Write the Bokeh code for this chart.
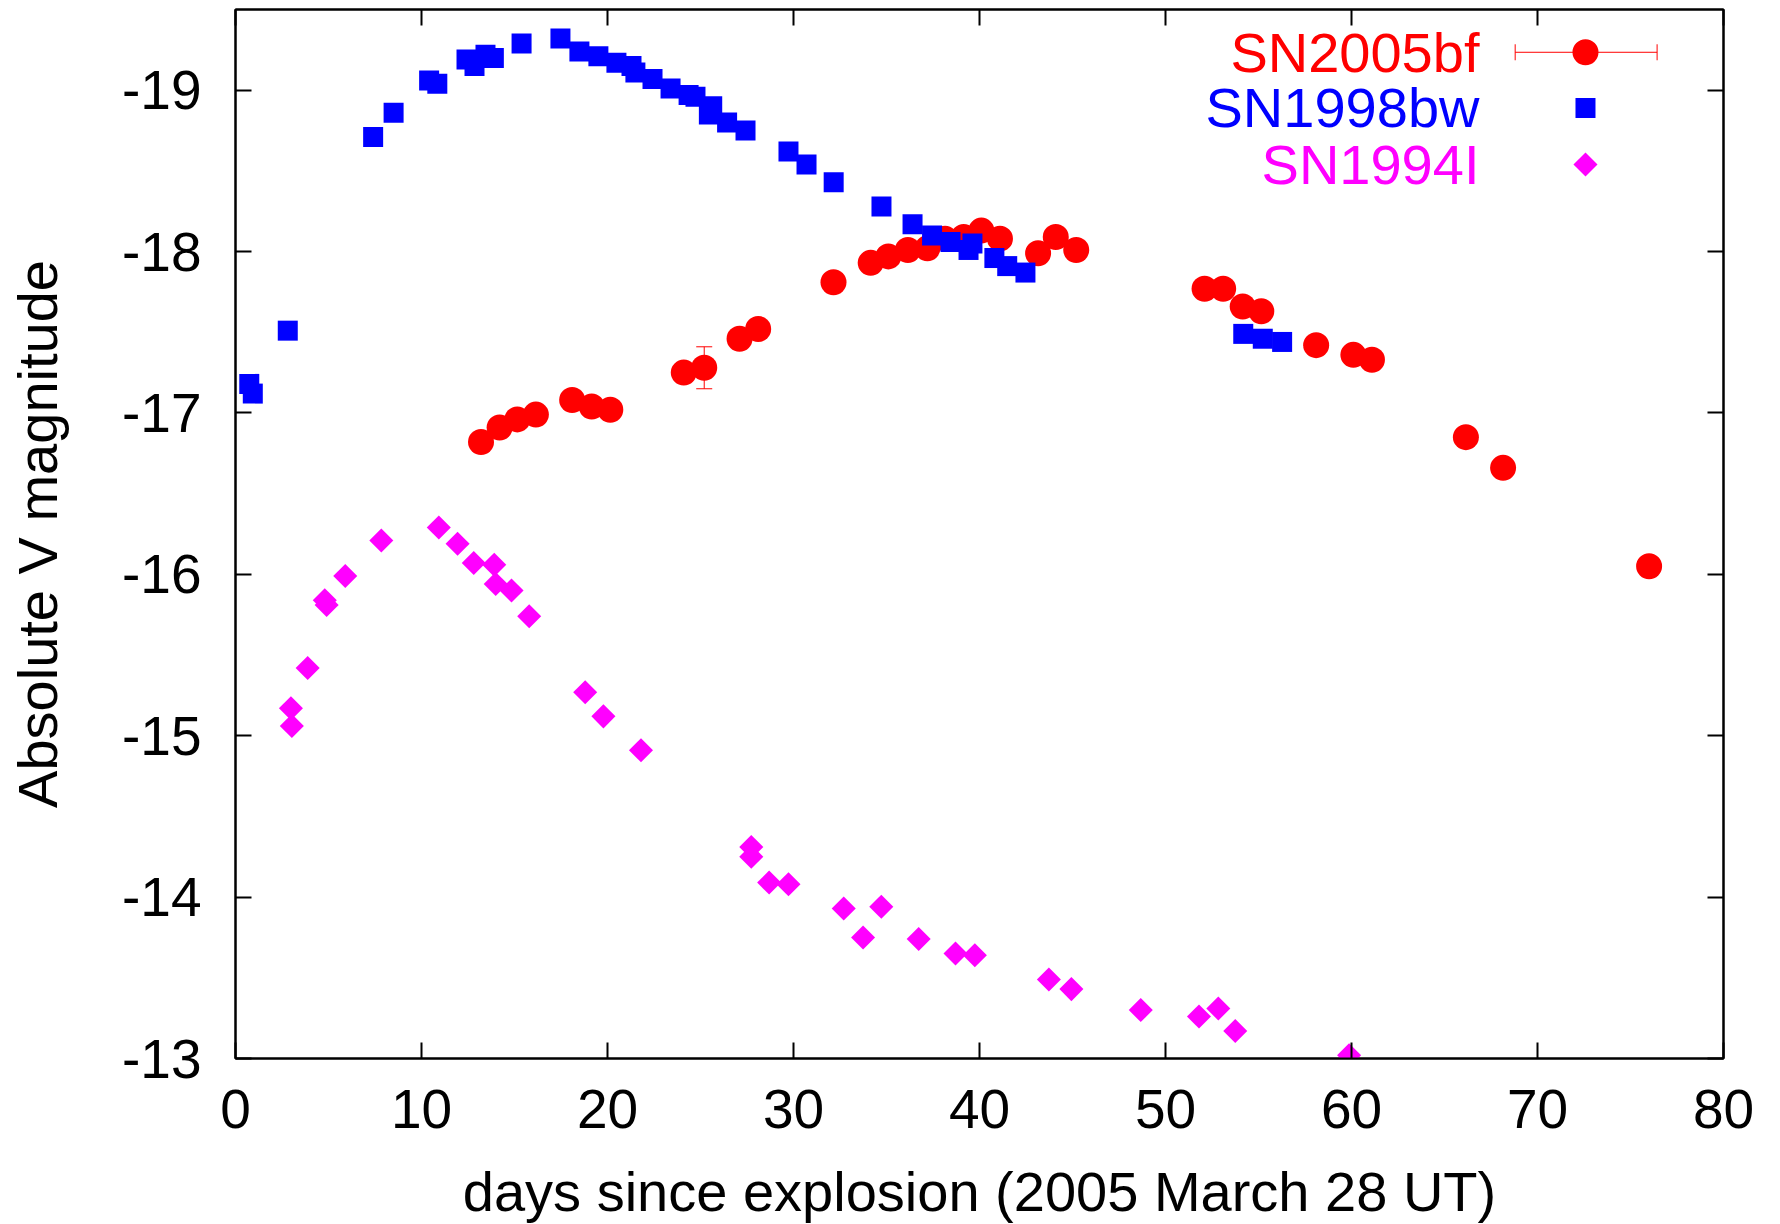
import math
from bokeh.plotting import figure
from bokeh.layouts import column
from bokeh.models import (Range1d, LinearAxis, FixedTicker, Whisker, TeeHead,
                          ColumnDataSource, Label, CustomJSTickFormatter)
from bokeh.core.properties import value
from bokeh.embed import file_html
from bokeh.resources import INLINE

# ---------------- data ----------------
sn2005bf_days = [13.2, 14.2, 15.15, 16.15, 18.1, 19.15, 20.15, 24.1, 25.2, 27.1,
                 28.1, 32.15, 34.15, 35.1, 36.15, 37.2, 38.15, 39.15, 40.1, 41.1,
                 43.15, 44.1, 45.2, 52.1, 53.1, 54.15, 55.15, 58.1, 60.1, 61.1,
                 66.15, 68.15, 76.0]
sn2005bf_mag = [-16.82, -16.91, -16.96, -16.99, -17.08, -17.04, -17.02, -17.25, -17.28, -17.46,
                -17.52, -17.81, -17.93, -17.97, -18.01, -18.02, -18.08, -18.09, -18.13, -18.08,
                -17.99, -18.09, -18.01, -17.77, -17.77, -17.66, -17.63, -17.42, -17.36, -17.33,
                -16.85, -16.66, -16.05]
sn2005bf_err_days = [25.2]
sn2005bf_err_mag = [-17.28]
sn2005bf_err = [0.13]

sn1998bw_days = [0.74, 0.93, 2.81, 7.4, 8.5, 10.41, 10.85, 12.42, 12.85, 13.44,
                 13.89, 15.38, 17.47, 18.49, 19.51, 20.48, 21.29, 21.5, 22.42, 23.39,
                 24.36, 24.73, 25.63, 25.45, 26.43, 27.42, 29.73, 30.7, 32.16, 34.73,
                 36.4, 37.45, 38.44, 39.41, 39.62, 40.8, 41.49, 42.47, 54.18, 55.23, 56.27]
sn1998bw_mag = [-17.18, -17.12, -17.51, -18.71, -18.86, -19.06, -19.04, -19.19, -19.15, -19.22,
                -19.20, -19.29, -19.32, -19.24, -19.21, -19.17, -19.15, -19.11, -19.07, -19.01,
                -18.97, -18.96, -18.90, -18.85, -18.80, -18.75, -18.62, -18.54, -18.43, -18.28,
                -18.17, -18.10, -18.06, -18.01, -18.05, -17.96, -17.91, -17.87, -17.49, -17.46, -17.44]

sn1994i_days = [2.98, 3.03, 3.88, 4.8, 4.9, 5.9, 7.84, 10.93, 11.94, 12.81,
                13.91, 13.99, 14.84, 15.79, 18.8, 19.78, 21.8, 27.73, 27.73, 28.69,
                29.73, 32.7, 33.74, 34.72, 36.73, 38.71, 39.75, 43.73, 44.94, 48.67,
                51.8, 52.84, 53.75, 59.87]
sn1994i_mag = [-15.17, -15.06, -15.42, -15.84, -15.81, -15.99, -16.21, -16.29, -16.19, -16.07,
               -16.06, -15.94, -15.90, -15.74, -15.27, -15.12, -14.91, -14.31, -14.25, -14.09,
               -14.08, -13.93, -13.75, -13.94, -13.74, -13.65, -13.64, -13.49, -13.43, -13.30,
               -13.26, -13.31, -13.17, -13.02]

series_names = ["SN2005bf", "SN1998bw", "SN1994I"]
series_colors = ["#ff0000", "#0000ff", "#ff00ff"]

x_ticks = [0, 10, 20, 30, 40, 50, 60, 70, 80]
y_ticks = [-19, -18, -17, -16, -15, -14, -13]

x_title = "days since explosion (2005 March 28 UT)"
y_title = "Absolute V magnitude"

# ---------------- styling / layout ----------------
FONT = "Liberation Sans"
TICK_FS = "55px"
TITLE_FS = "56px"
MAIN_H = 1150
TITLE_H = 74

p = figure(width=1780, height=MAIN_H,
           x_range=Range1d(0, 80), y_range=Range1d(-13, -19.5),
           output_backend="svg", toolbar_location=None,
           min_border_left=235, min_border_right=57,
           min_border_top=9, min_border_bottom=MAIN_H - 1058)
p.background_fill_color = "white"
p.border_fill_color = "white"
p.outline_line_color = "black"
p.outline_line_width = 2
p.grid.visible = False


def style_axis(ax, ticks, show_labels):
    ax.ticker = FixedTicker(ticks=ticks)
    ax.axis_line_color = "black"
    ax.axis_line_width = 2
    ax.major_tick_in = 16
    ax.major_tick_out = 0
    ax.major_tick_line_width = 2
    ax.major_tick_line_color = "black"
    ax.minor_tick_line_color = None
    ax.major_label_text_font = FONT
    ax.major_label_text_color = "black"
    ax.axis_label_text_font = FONT
    ax.axis_label_text_font_style = "normal"
    ax.axis_label_text_font_size = TITLE_FS
    ax.axis_label_text_color = "black"
    if show_labels:
        ax.major_label_text_font_size = TICK_FS
        ax.formatter = CustomJSTickFormatter(code="return String(tick)")
    else:
        ax.major_label_text_font_size = "0px"
        ax.formatter = CustomJSTickFormatter(code="return ''")
        ax.major_label_standoff = 0


xb = p.xaxis[0]
yl = p.yaxis[0]
style_axis(xb, x_ticks, True)
style_axis(yl, y_ticks, True)
yl.axis_label = y_title
xb.major_label_standoff = 31
yl.major_label_standoff = 34
yl.axis_label_standoff = 50

xt = LinearAxis()
style_axis(xt, x_ticks, False)
p.add_layout(xt, "above")
yr = LinearAxis()
style_axis(yr, y_ticks, False)
p.add_layout(yr, "right")

# ---------------- data marks ----------------
src_err = ColumnDataSource(dict(
    x=sn2005bf_err_days,
    lo=[m - e for m, e in zip(sn2005bf_err_mag, sn2005bf_err)],
    hi=[m + e for m, e in zip(sn2005bf_err_mag, sn2005bf_err)]))
p.add_layout(Whisker(source=src_err, base="x", lower="lo", upper="hi", dimension="height",
                     line_color=series_colors[0], line_width=1,
                     upper_head=TeeHead(size=16, line_color=series_colors[0], line_width=1),
                     lower_head=TeeHead(size=16, line_color=series_colors[0], line_width=1)))

p.scatter(sn2005bf_days, sn2005bf_mag, marker="circle", size=26,
          fill_color=series_colors[0], line_color=None)
p.scatter(sn1998bw_days, sn1998bw_mag, marker="square", size=20,
          fill_color=series_colors[1], line_color=None)
p.scatter(sn1994i_days, sn1994i_mag, marker="square", angle=math.pi / 4, size=17,
          fill_color=series_colors[2], line_color=None)

# ---------------- legend (label left, sample right) ----------------
leg_text_x = 66.88
leg_sample_x = 72.58
leg_rows_y = [-19.235, -18.89, -18.54]
leg_bar_lo, leg_bar_hi = 68.8, 76.43

for name, col, yy in zip(series_names, series_colors, leg_rows_y):
    p.add_layout(Label(x=leg_text_x, y=yy, text=name, text_align="right",
                       text_baseline="middle", text_color=col,
                       text_font=FONT, text_font_size=TITLE_FS))

src_leg = ColumnDataSource(dict(y=[leg_rows_y[0]], lo=[leg_bar_lo], hi=[leg_bar_hi]))
p.add_layout(Whisker(source=src_leg, base="y", lower="lo", upper="hi", dimension="width",
                     line_color=series_colors[0], line_width=1,
                     upper_head=TeeHead(size=16, line_color=series_colors[0], line_width=1),
                     lower_head=TeeHead(size=16, line_color=series_colors[0], line_width=1)))
p.scatter([leg_sample_x], [leg_rows_y[0]], marker="circle", size=26,
          fill_color=series_colors[0], line_color=None)
p.scatter([leg_sample_x], [leg_rows_y[1]], marker="square", size=20,
          fill_color=series_colors[1], line_color=None)
p.scatter([leg_sample_x], [leg_rows_y[2]], marker="square", angle=math.pi / 4, size=17,
          fill_color=series_colors[2], line_color=None)

# ---------------- x-axis title strip (same horizontal frame as the plot) ----------------
pt = figure(width=1780, height=TITLE_H,
            x_range=Range1d(0, 80), y_range=Range1d(0, TITLE_H),
            x_axis_type=None, y_axis_type=None,
            output_backend="svg", toolbar_location=None,
            min_border_left=235, min_border_right=57,
            min_border_top=0, min_border_bottom=0)
pt.outline_line_color = None
pt.grid.visible = False
pt.background_fill_color = "white"
pt.border_fill_color = "white"
pt.text(x=[40], y=[33], text=[x_title], text_align="center",
        text_baseline="alphabetic", text_color="black",
        text_font=value(FONT), text_font_size=TITLE_FS)

layout = column(p, pt, spacing=0)
open("out.html", "w").write(file_html(layout, INLINE))
